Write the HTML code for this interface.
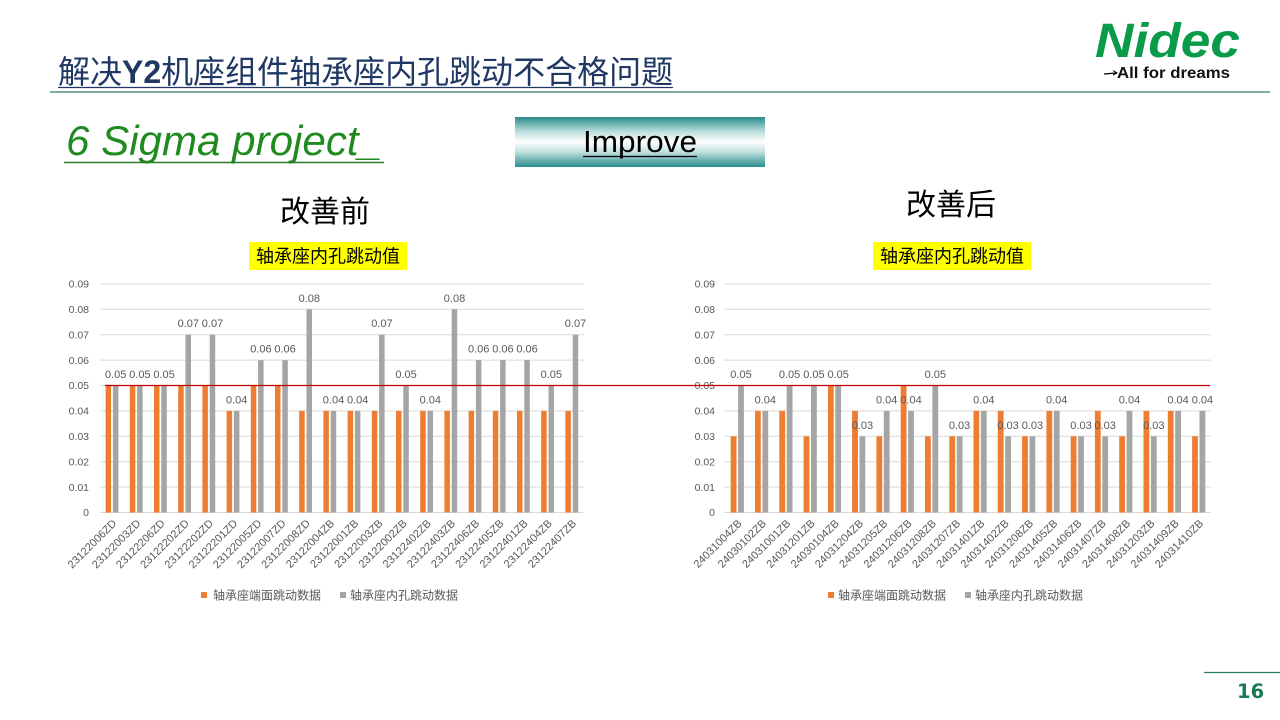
<!DOCTYPE html>
<html>
<head>
<meta charset="utf-8">
<style>
html,body{margin:0;padding:0;background:#fff;}
body{width:1280px;height:720px;overflow:hidden;position:relative;}
svg{position:absolute;left:0;top:0;}
text{font-family:"Liberation Sans","Noto Sans CJK SC",sans-serif;}
.yt{font-size:10.5px;fill:#595959;text-anchor:end;}
.dl{font-size:11px;fill:#595959;text-anchor:middle;}
.xl{font-size:11px;fill:#595959;text-anchor:end;}
.lg{font-size:12px;fill:#595959;}
.g{stroke:#d9d9d9;stroke-width:1;}
.o{fill:#ed7d31;}
.s{fill:#a5a5a5;}
</style>
</head>
<body>
<svg width="1280" height="720" viewBox="0 0 1280 720" xmlns="http://www.w3.org/2000/svg">
<defs>
<linearGradient id="imp" x1="0" y1="0" x2="0" y2="1">
<stop offset="0" stop-color="#2a8c8c"/>
<stop offset="0.3" stop-color="#bfe0df"/>
<stop offset="0.5" stop-color="#ffffff"/>
<stop offset="0.7" stop-color="#bfe0df"/>
<stop offset="1" stop-color="#2a8c8c"/>
</linearGradient>
</defs>

<!-- Header title -->
<text x="58" y="83" font-size="32" fill="#203864">解决<tspan font-weight="bold" font-family="Liberation Sans">Y2</tspan>机座组件轴承座内孔跳动不合格问题</text>
<line x1="58" y1="87.5" x2="673" y2="87.5" stroke="#203864" stroke-width="1.2"/>
<line x1="50" y1="92" x2="1270" y2="92" stroke="#2e7d5b" stroke-width="1.2"/>

<!-- Nidec logo -->
<text x="1095" y="57" font-size="48" font-weight="bold" font-style="italic" fill="#0a9b4a" textLength="145" lengthAdjust="spacingAndGlyphs">Nidec</text>
<path d="M1104 74 L1116 73" stroke="#000" stroke-width="1.2" fill="none"/>
<path d="M1113 70.5 L1117 73 L1113 75" stroke="#000" stroke-width="1" fill="none"/>
<text x="1117" y="78" font-size="16" font-weight="bold" fill="#111" textLength="113" lengthAdjust="spacingAndGlyphs">All for dreams</text>

<!-- 6 Sigma project -->
<text x="66" y="155" font-size="42" font-style="italic" fill="#1f8a1f" textLength="316" lengthAdjust="spacingAndGlyphs">6 Sigma project_</text>
<line x1="64" y1="162.5" x2="384" y2="162.5" stroke="#2a7a2a" stroke-width="1.5"/>

<!-- Improve box -->
<rect x="515" y="117" width="250" height="50" fill="url(#imp)"/>
<text x="583" y="152" font-size="31" fill="#000" textLength="114" lengthAdjust="spacingAndGlyphs">Improve</text>
<line x1="583" y1="156.5" x2="697" y2="156.5" stroke="#000" stroke-width="1.3"/>

<!-- section titles -->
<text x="280" y="222" font-size="30" fill="#000">改善前</text>
<text x="906" y="215" font-size="30" fill="#000">改善后</text>

<!-- chart titles -->
<rect x="249" y="242" width="158" height="28" fill="#ffff00"/>
<text x="328" y="262.5" font-size="18" fill="#000" text-anchor="middle">轴承座内孔跳动值</text>
<rect x="873" y="242" width="158" height="28" fill="#ffff00"/>
<text x="952" y="262.5" font-size="18" fill="#000" text-anchor="middle">轴承座内孔跳动值</text>

<!-- LEFT CHART gridlines -->
<g class="g">
<line x1="100" y1="512.5" x2="584" y2="512.5"/>
<line x1="100" y1="487.1" x2="584" y2="487.1"/>
<line x1="100" y1="461.7" x2="584" y2="461.7"/>
<line x1="100" y1="436.3" x2="584" y2="436.3"/>
<line x1="100" y1="410.9" x2="584" y2="410.9"/>
<line x1="100" y1="385.5" x2="584" y2="385.5"/>
<line x1="100" y1="360.1" x2="584" y2="360.1"/>
<line x1="100" y1="334.7" x2="584" y2="334.7"/>
<line x1="100" y1="309.3" x2="584" y2="309.3"/>
<line x1="100" y1="283.9" x2="584" y2="283.9"/>
</g>
<g>
<text class="yt" x="89" y="516.2">0</text>
<text class="yt" x="89" y="490.8">0.01</text>
<text class="yt" x="89" y="465.4">0.02</text>
<text class="yt" x="89" y="440">0.03</text>
<text class="yt" x="89" y="414.6">0.04</text>
<text class="yt" x="89" y="389.2">0.05</text>
<text class="yt" x="89" y="363.8">0.06</text>
<text class="yt" x="89" y="338.4">0.07</text>
<text class="yt" x="89" y="313">0.08</text>
<text class="yt" x="89" y="287.6">0.09</text>
</g>
<!-- left orange -->
<g class="o">
<rect x="105.6" y="385.5" width="5.5" height="127"/>
<rect x="129.8" y="385.5" width="5.5" height="127"/>
<rect x="154.0" y="385.5" width="5.5" height="127"/>
<rect x="178.2" y="385.5" width="5.5" height="127"/>
<rect x="202.4" y="385.5" width="5.5" height="127"/>
<rect x="226.6" y="410.9" width="5.5" height="101.6"/>
<rect x="250.8" y="385.5" width="5.5" height="127"/>
<rect x="275.0" y="385.5" width="5.5" height="127"/>
<rect x="299.2" y="410.9" width="5.5" height="101.6"/>
<rect x="323.4" y="410.9" width="5.5" height="101.6"/>
<rect x="347.6" y="410.9" width="5.5" height="101.6"/>
<rect x="371.8" y="410.9" width="5.5" height="101.6"/>
<rect x="396.0" y="410.9" width="5.5" height="101.6"/>
<rect x="420.2" y="410.9" width="5.5" height="101.6"/>
<rect x="444.4" y="410.9" width="5.5" height="101.6"/>
<rect x="468.6" y="410.9" width="5.5" height="101.6"/>
<rect x="492.8" y="410.9" width="5.5" height="101.6"/>
<rect x="517.0" y="410.9" width="5.5" height="101.6"/>
<rect x="541.2" y="410.9" width="5.5" height="101.6"/>
<rect x="565.4" y="410.9" width="5.5" height="101.6"/>
</g>
<!-- left gray -->
<g class="s">
<rect x="112.9" y="385.5" width="5.5" height="127"/>
<rect x="137.1" y="385.5" width="5.5" height="127"/>
<rect x="161.3" y="385.5" width="5.5" height="127"/>
<rect x="185.5" y="334.7" width="5.5" height="177.8"/>
<rect x="209.7" y="334.7" width="5.5" height="177.8"/>
<rect x="233.9" y="410.9" width="5.5" height="101.6"/>
<rect x="258.1" y="360.1" width="5.5" height="152.4"/>
<rect x="282.3" y="360.1" width="5.5" height="152.4"/>
<rect x="306.5" y="309.3" width="5.5" height="203.2"/>
<rect x="330.7" y="410.9" width="5.5" height="101.6"/>
<rect x="354.9" y="410.9" width="5.5" height="101.6"/>
<rect x="379.1" y="334.7" width="5.5" height="177.8"/>
<rect x="403.3" y="385.5" width="5.5" height="127"/>
<rect x="427.5" y="410.9" width="5.5" height="101.6"/>
<rect x="451.7" y="309.3" width="5.5" height="203.2"/>
<rect x="475.9" y="360.1" width="5.5" height="152.4"/>
<rect x="500.1" y="360.1" width="5.5" height="152.4"/>
<rect x="524.3" y="360.1" width="5.5" height="152.4"/>
<rect x="548.5" y="385.5" width="5.5" height="127"/>
<rect x="572.7" y="334.7" width="5.5" height="177.8"/>
</g>
<!-- left data labels -->
<g>
<text class="dl" x="115.7" y="378">0.05</text>
<text class="dl" x="139.9" y="378">0.05</text>
<text class="dl" x="164.1" y="378">0.05</text>
<text class="dl" x="188.3" y="327.2">0.07</text>
<text class="dl" x="212.5" y="327.2">0.07</text>
<text class="dl" x="236.7" y="403.4">0.04</text>
<text class="dl" x="260.9" y="352.6">0.06</text>
<text class="dl" x="285.1" y="352.6">0.06</text>
<text class="dl" x="309.3" y="301.8">0.08</text>
<text class="dl" x="333.5" y="403.4">0.04</text>
<text class="dl" x="357.7" y="403.4">0.04</text>
<text class="dl" x="381.9" y="327.2">0.07</text>
<text class="dl" x="406.1" y="378">0.05</text>
<text class="dl" x="430.3" y="403.4">0.04</text>
<text class="dl" x="454.5" y="301.8">0.08</text>
<text class="dl" x="478.7" y="352.6">0.06</text>
<text class="dl" x="502.9" y="352.6">0.06</text>
<text class="dl" x="527.1" y="352.6">0.06</text>
<text class="dl" x="551.3" y="378">0.05</text>
<text class="dl" x="575.5" y="327.2">0.07</text>
</g>
<!-- left x labels -->
<g>
<text class="xl" transform="translate(117.1,524) rotate(-45)">23122006ZD</text>
<text class="xl" transform="translate(141.3,524) rotate(-45)">23122003ZD</text>
<text class="xl" transform="translate(165.5,524) rotate(-45)">23122206ZD</text>
<text class="xl" transform="translate(189.7,524) rotate(-45)">23122202ZD</text>
<text class="xl" transform="translate(213.9,524) rotate(-45)">23122202ZD</text>
<text class="xl" transform="translate(238.1,524) rotate(-45)">23122201ZD</text>
<text class="xl" transform="translate(262.3,524) rotate(-45)">23122005ZD</text>
<text class="xl" transform="translate(286.5,524) rotate(-45)">23122007ZD</text>
<text class="xl" transform="translate(310.7,524) rotate(-45)">23122008ZD</text>
<text class="xl" transform="translate(334.9,524) rotate(-45)">23122004ZB</text>
<text class="xl" transform="translate(359.1,524) rotate(-45)">23122001ZB</text>
<text class="xl" transform="translate(383.3,524) rotate(-45)">23122003ZB</text>
<text class="xl" transform="translate(407.5,524) rotate(-45)">23122002ZB</text>
<text class="xl" transform="translate(431.7,524) rotate(-45)">23122402ZB</text>
<text class="xl" transform="translate(455.9,524) rotate(-45)">23122403ZB</text>
<text class="xl" transform="translate(480.1,524) rotate(-45)">23122406ZB</text>
<text class="xl" transform="translate(504.3,524) rotate(-45)">23122405ZB</text>
<text class="xl" transform="translate(528.5,524) rotate(-45)">23122401ZB</text>
<text class="xl" transform="translate(552.7,524) rotate(-45)">23122404ZB</text>
<text class="xl" transform="translate(576.9,524) rotate(-45)">23122407ZB</text>
</g>
<!-- left legend -->
<rect x="201" y="592" width="6" height="6" fill="#ed7d31"/>
<text class="lg" x="213" y="599.4">轴承座端面跳动数据</text>
<rect x="340" y="592" width="6" height="6" fill="#a5a5a5"/>
<text class="lg" x="350" y="599.4">轴承座内孔跳动数据</text>

<!-- RIGHT CHART gridlines -->
<g class="g">
<line x1="724" y1="512.5" x2="1211" y2="512.5"/>
<line x1="724" y1="487.1" x2="1211" y2="487.1"/>
<line x1="724" y1="461.7" x2="1211" y2="461.7"/>
<line x1="724" y1="436.3" x2="1211" y2="436.3"/>
<line x1="724" y1="410.9" x2="1211" y2="410.9"/>
<line x1="724" y1="385.5" x2="1211" y2="385.5"/>
<line x1="724" y1="360.1" x2="1211" y2="360.1"/>
<line x1="724" y1="334.7" x2="1211" y2="334.7"/>
<line x1="724" y1="309.3" x2="1211" y2="309.3"/>
<line x1="724" y1="283.9" x2="1211" y2="283.9"/>
</g>
<g>
<text class="yt" x="715" y="516.2">0</text>
<text class="yt" x="715" y="490.8">0.01</text>
<text class="yt" x="715" y="465.4">0.02</text>
<text class="yt" x="715" y="440">0.03</text>
<text class="yt" x="715" y="414.6">0.04</text>
<text class="yt" x="715" y="389.2">0.05</text>
<text class="yt" x="715" y="363.8">0.06</text>
<text class="yt" x="715" y="338.4">0.07</text>
<text class="yt" x="715" y="313">0.08</text>
<text class="yt" x="715" y="287.6">0.09</text>
</g>
<!-- right orange -->
<g class="o">
<rect x="730.7" y="436.3" width="5.8" height="76.2"/>
<rect x="755.0" y="410.9" width="5.8" height="101.6"/>
<rect x="779.3" y="410.9" width="5.8" height="101.6"/>
<rect x="803.6" y="436.3" width="5.8" height="76.2"/>
<rect x="827.9" y="385.5" width="5.8" height="127"/>
<rect x="852.1" y="410.9" width="5.8" height="101.6"/>
<rect x="876.4" y="436.3" width="5.8" height="76.2"/>
<rect x="900.7" y="385.5" width="5.8" height="127"/>
<rect x="925.0" y="436.3" width="5.8" height="76.2"/>
<rect x="949.3" y="436.3" width="5.8" height="76.2"/>
<rect x="973.5" y="410.9" width="5.8" height="101.6"/>
<rect x="997.8" y="410.9" width="5.8" height="101.6"/>
<rect x="1022.1" y="436.3" width="5.8" height="76.2"/>
<rect x="1046.4" y="410.9" width="5.8" height="101.6"/>
<rect x="1070.7" y="436.3" width="5.8" height="76.2"/>
<rect x="1094.9" y="410.9" width="5.8" height="101.6"/>
<rect x="1119.2" y="436.3" width="5.8" height="76.2"/>
<rect x="1143.5" y="410.9" width="5.8" height="101.6"/>
<rect x="1167.8" y="410.9" width="5.8" height="101.6"/>
<rect x="1192.1" y="436.3" width="5.8" height="76.2"/>
</g>
<!-- right gray -->
<g class="s">
<rect x="738.1" y="385.5" width="5.8" height="127"/>
<rect x="762.4" y="410.9" width="5.8" height="101.6"/>
<rect x="786.7" y="385.5" width="5.8" height="127"/>
<rect x="811.0" y="385.5" width="5.8" height="127"/>
<rect x="835.3" y="385.5" width="5.8" height="127"/>
<rect x="859.5" y="436.3" width="5.8" height="76.2"/>
<rect x="883.8" y="410.9" width="5.8" height="101.6"/>
<rect x="908.1" y="410.9" width="5.8" height="101.6"/>
<rect x="932.4" y="385.5" width="5.8" height="127"/>
<rect x="956.7" y="436.3" width="5.8" height="76.2"/>
<rect x="980.9" y="410.9" width="5.8" height="101.6"/>
<rect x="1005.2" y="436.3" width="5.8" height="76.2"/>
<rect x="1029.5" y="436.3" width="5.8" height="76.2"/>
<rect x="1053.8" y="410.9" width="5.8" height="101.6"/>
<rect x="1078.1" y="436.3" width="5.8" height="76.2"/>
<rect x="1102.3" y="436.3" width="5.8" height="76.2"/>
<rect x="1126.6" y="410.9" width="5.8" height="101.6"/>
<rect x="1150.9" y="436.3" width="5.8" height="76.2"/>
<rect x="1175.2" y="410.9" width="5.8" height="101.6"/>
<rect x="1199.5" y="410.9" width="5.8" height="101.6"/>
</g>
<!-- right data labels -->
<g>
<text class="dl" x="741.0" y="378">0.05</text>
<text class="dl" x="765.3" y="403.4">0.04</text>
<text class="dl" x="789.6" y="378">0.05</text>
<text class="dl" x="813.9" y="378">0.05</text>
<text class="dl" x="838.2" y="378">0.05</text>
<text class="dl" x="862.4" y="428.8">0.03</text>
<text class="dl" x="886.7" y="403.4">0.04</text>
<text class="dl" x="911.0" y="403.4">0.04</text>
<text class="dl" x="935.3" y="378">0.05</text>
<text class="dl" x="959.6" y="428.8">0.03</text>
<text class="dl" x="983.8" y="403.4">0.04</text>
<text class="dl" x="1008.1" y="428.8">0.03</text>
<text class="dl" x="1032.4" y="428.8">0.03</text>
<text class="dl" x="1056.7" y="403.4">0.04</text>
<text class="dl" x="1081.0" y="428.8">0.03</text>
<text class="dl" x="1105.2" y="428.8">0.03</text>
<text class="dl" x="1129.5" y="403.4">0.04</text>
<text class="dl" x="1153.8" y="428.8">0.03</text>
<text class="dl" x="1178.1" y="403.4">0.04</text>
<text class="dl" x="1202.4" y="403.4">0.04</text>
</g>
<!-- right x labels -->
<g>
<text class="xl" transform="translate(742.5,524) rotate(-45)">24031004ZB</text>
<text class="xl" transform="translate(766.8,524) rotate(-45)">24030102ZB</text>
<text class="xl" transform="translate(791.1,524) rotate(-45)">24031001ZB</text>
<text class="xl" transform="translate(815.4,524) rotate(-45)">24031201ZB</text>
<text class="xl" transform="translate(839.7,524) rotate(-45)">24030104ZB</text>
<text class="xl" transform="translate(863.9,524) rotate(-45)">24031204ZB</text>
<text class="xl" transform="translate(888.2,524) rotate(-45)">24031205ZB</text>
<text class="xl" transform="translate(912.5,524) rotate(-45)">24031206ZB</text>
<text class="xl" transform="translate(936.8,524) rotate(-45)">24031208ZB</text>
<text class="xl" transform="translate(961.1,524) rotate(-45)">24031207ZB</text>
<text class="xl" transform="translate(985.3,524) rotate(-45)">24031401ZB</text>
<text class="xl" transform="translate(1009.6,524) rotate(-45)">24031402ZB</text>
<text class="xl" transform="translate(1033.9,524) rotate(-45)">24031208ZB</text>
<text class="xl" transform="translate(1058.2,524) rotate(-45)">24031405ZB</text>
<text class="xl" transform="translate(1082.5,524) rotate(-45)">24031406ZB</text>
<text class="xl" transform="translate(1106.7,524) rotate(-45)">24031407ZB</text>
<text class="xl" transform="translate(1131.0,524) rotate(-45)">24031408ZB</text>
<text class="xl" transform="translate(1155.3,524) rotate(-45)">24031203ZB</text>
<text class="xl" transform="translate(1179.6,524) rotate(-45)">24031409ZB</text>
<text class="xl" transform="translate(1203.9,524) rotate(-45)">24031410ZB</text>
</g>
<!-- right legend -->
<rect x="828" y="592" width="6" height="6" fill="#ed7d31"/>
<text class="lg" x="838" y="599.4">轴承座端面跳动数据</text>
<rect x="965" y="592" width="6" height="6" fill="#a5a5a5"/>
<text class="lg" x="975" y="599.4">轴承座内孔跳动数据</text>

<!-- red limit line -->
<line x1="105" y1="385.5" x2="1210" y2="385.5" stroke="#c00000" stroke-width="1.3"/>

<!-- page number -->
<line x1="1204" y1="672.5" x2="1280" y2="672.5" stroke="#2e7d5b" stroke-width="1.2"/>
<text x="1237" y="698" font-size="19.5" font-weight="bold" fill="#1a7a50" font-family="DejaVu Sans" style="font-family:'DejaVu Sans',sans-serif">16</text>
</svg>
</body>
</html>
